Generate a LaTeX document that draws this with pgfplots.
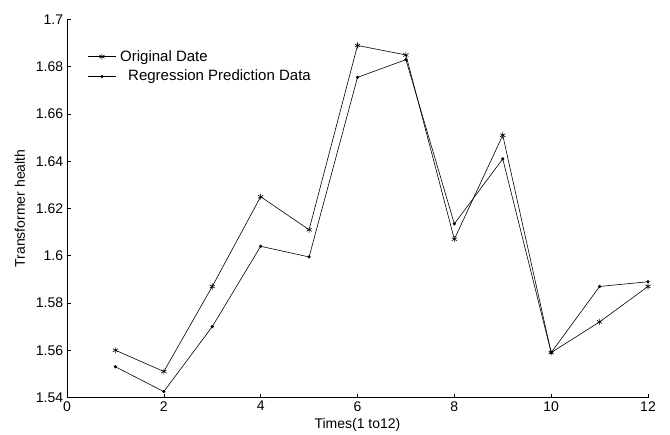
\documentclass[border=0pt]{standalone}
\usepackage{fontspec}
\setmainfont{Liberation Sans}
\usepackage{pgfplots}
\pgfplotsset{compat=1.18}
\begin{document}
\fontsize{14bp}{16bp}\selectfont
\begin{tikzpicture}
\path[use as bounding box] (-67bp,-37.5bp) rectangle (603bp,397.5bp);
\begin{axis}[
    at={(0,0)}, anchor=south west,
    scale only axis,
    width=581bp, height=378bp,
    axis lines=left,
    axis line style={-, line width=0.6bp},
    xmin=0, xmax=12, ymin=1.54, ymax=1.7,
    xtick={0,2,...,12},
    ytick={1.54,1.56,...,1.7},
    tick align=inside,
    major tick length=4bp,
    tick style={line width=0.6bp, black},
    yticklabel style={/pgf/number format/fixed, /pgf/number format/precision=2, xshift=1bp},
    /pgf/number format/assume math mode=true,
    xticklabel style={yshift=1bp},
    xlabel={Times(1 to12)},
    ylabel={Transformer health},
    xlabel style={at={(axis description cs:0.5,-0.0714)}, anchor=center},
    ylabel style={at={(axis description cs:-0.0809,0.5)}, anchor=center},
    legend style={draw=none, fill=none, at={(axis description cs:0.03,0.93)}, anchor=north west,
        font=\fontsize{15bp}{17bp}\selectfont, row sep=3bp,
        nodes={inner xsep=4bp}},
    legend cell align=left,
    legend image code/.code={
        \draw[#1, mark=none] (0bp,0bp) -- (28bp,0bp);
        \draw[#1, only marks] plot coordinates {(14bp,0bp)};
    },
]
\addplot[black, line width=0.6bp, mark=asterisk, mark size=3bp, mark options={line width=0.6bp}] coordinates {
(1,1.560) (2,1.551) (3,1.587) (4,1.625) (5,1.611) (6,1.689)
(7,1.685) (8,1.607) (9,1.651) (10,1.559) (11,1.572) (12,1.587)
};
\addlegendentry{Original Date}
\addplot[black, line width=0.6bp, mark=*, mark size=1.3bp] coordinates {
(1,1.553) (2,1.5425) (3,1.570) (4,1.604) (5,1.5995) (6,1.6755)
(7,1.683) (8,1.6135) (9,1.641) (10,1.559) (11,1.587) (12,1.589)
};
\addlegendentry{\hspace{8bp}Regression Prediction Data}
\end{axis}
\end{tikzpicture}
\end{document}
